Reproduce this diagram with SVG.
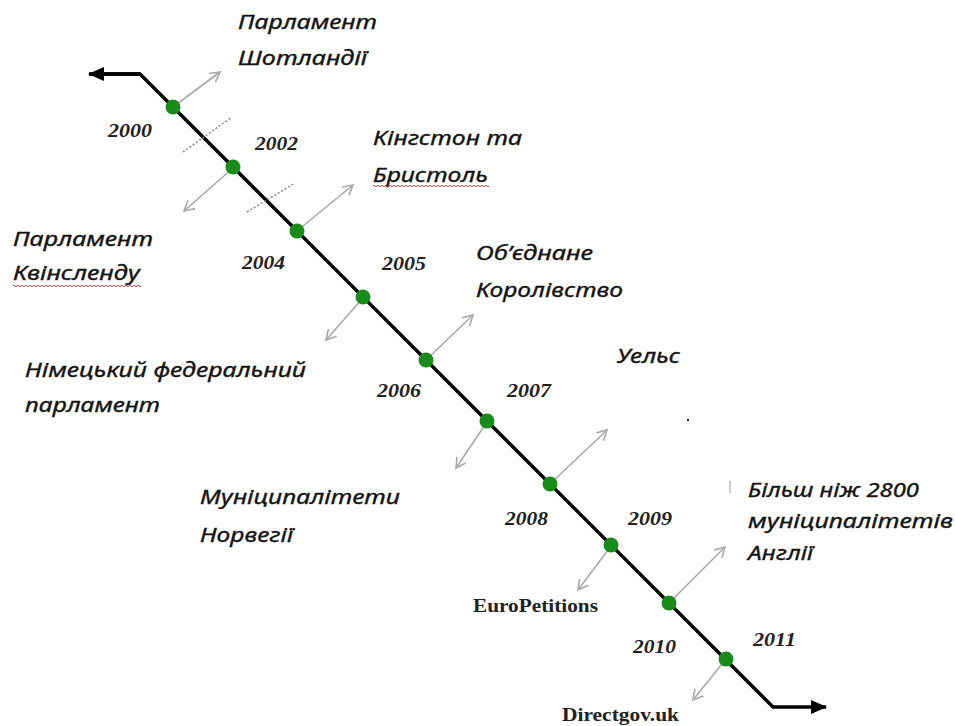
<svg xmlns="http://www.w3.org/2000/svg" width="955" height="726" viewBox="0 0 955 726">
<style>
.lbl{font-family:"Noto Sans","Open Sans",sans-serif;font-style:italic;font-size:20px;fill:#141414;stroke:#141414;stroke-width:0.35px}
.yr{font-family:"Liberation Serif","Times New Roman",serif;font-style:italic;font-weight:bold;font-size:19px;fill:#222}
.src{font-family:"Liberation Serif","Times New Roman",serif;font-weight:bold;font-size:18px;fill:#222}
.main{fill:none;stroke:#000;stroke-width:3.4}
.ptr{fill:none;stroke:#a9a9a9;stroke-width:1.6}
.dotted{fill:none;stroke:#8a8a8a;stroke-width:1.5;stroke-dasharray:2 2}
.dot{fill:#1a8a1a}
</style>
<defs>
<marker id="mainHead" markerUnits="userSpaceOnUse" markerWidth="18" markerHeight="16" refX="15" refY="7" orient="auto">
<path d="M0,0 L16,7 L0,14 Z" fill="#000"/>
</marker>
<marker id="ptrHead" markerUnits="userSpaceOnUse" markerWidth="14" markerHeight="14" refX="10" refY="6" orient="auto">
<path d="M0,0.5 L10,6 L0,11.5" fill="none" stroke="#a9a9a9" stroke-width="1.6"/>
</marker>
<pattern id="squig" width="4" height="4" patternUnits="userSpaceOnUse">
<path d="M0,3 L2,1 L4,3" fill="none" stroke="#d03030" stroke-width="0.9"/>
</pattern>
</defs>
<rect width="955" height="726" fill="#fff"/>

<g id="connectors">
<path class="main" d="M90,74 H140 L773,707 H826" marker-end="url(#mainHead)"/>
<path class="main" d="M140,74 H89" marker-end="url(#mainHead)"/>
<line class="ptr" x1="173" y1="107" x2="220" y2="72" marker-end="url(#ptrHead)"/>
<line class="ptr" x1="233" y1="168" x2="184" y2="211" marker-end="url(#ptrHead)"/>
<line class="ptr" x1="297" y1="231" x2="353" y2="185" marker-end="url(#ptrHead)"/>
<line class="ptr" x1="363" y1="298" x2="326" y2="340" marker-end="url(#ptrHead)"/>
<line class="ptr" x1="426" y1="360" x2="473" y2="315" marker-end="url(#ptrHead)"/>
<line class="ptr" x1="487" y1="422" x2="456" y2="468" marker-end="url(#ptrHead)"/>
<line class="ptr" x1="550" y1="484" x2="607" y2="430" marker-end="url(#ptrHead)"/>
<line class="ptr" x1="611" y1="546" x2="578" y2="590" marker-end="url(#ptrHead)"/>
<line class="ptr" x1="669" y1="603" x2="725" y2="547" marker-end="url(#ptrHead)"/>
<line class="ptr" x1="726" y1="659" x2="693" y2="700" marker-end="url(#ptrHead)"/>
<line class="dotted" x1="183" y1="152" x2="232" y2="117"/>
<line class="dotted" x1="247" y1="212" x2="295" y2="183"/>
</g>

<g id="y2000"><circle class="dot" cx="173" cy="107" r="7.5"/><text class="yr" x="108" y="137" textLength="44" lengthAdjust="spacingAndGlyphs">2000</text></g>
<g id="y2002"><circle class="dot" cx="233" cy="167" r="7.5"/><text class="yr" x="255" y="150" textLength="43" lengthAdjust="spacingAndGlyphs">2002</text></g>
<g id="y2004"><circle class="dot" cx="297" cy="231" r="7.5"/><text class="yr" x="242" y="269" textLength="43" lengthAdjust="spacingAndGlyphs">2004</text></g>
<g id="y2005"><circle class="dot" cx="363" cy="297" r="7.5"/><text class="yr" x="382" y="270" textLength="44" lengthAdjust="spacingAndGlyphs">2005</text></g>
<g id="y2006"><circle class="dot" cx="426" cy="360" r="7.5"/><text class="yr" x="377" y="397" textLength="44" lengthAdjust="spacingAndGlyphs">2006</text></g>
<g id="y2007"><circle class="dot" cx="487" cy="421" r="7.5"/><text class="yr" x="507" y="397" textLength="44" lengthAdjust="spacingAndGlyphs">2007</text></g>
<g id="y2008"><circle class="dot" cx="550" cy="484" r="7.5"/><text class="yr" x="505" y="525" textLength="43" lengthAdjust="spacingAndGlyphs">2008</text></g>
<g id="y2009"><circle class="dot" cx="611" cy="545" r="7.5"/><text class="yr" x="628" y="525" textLength="44" lengthAdjust="spacingAndGlyphs">2009</text></g>
<g id="y2010"><circle class="dot" cx="669" cy="603" r="7.5"/><text class="yr" x="633" y="653" textLength="43" lengthAdjust="spacingAndGlyphs">2010</text></g>
<g id="y2011"><circle class="dot" cx="726" cy="659" r="7.5"/><text class="yr" x="753" y="646" textLength="43" lengthAdjust="spacingAndGlyphs">2011</text></g>

<g id="scotland">
<text class="lbl" x="238" y="29" textLength="139" lengthAdjust="spacingAndGlyphs">Парламент</text>
<text class="lbl" x="238" y="65" textLength="129" lengthAdjust="spacingAndGlyphs">Шотландії</text>
</g>
<g id="kingston">
<text class="lbl" x="373" y="145" textLength="149" lengthAdjust="spacingAndGlyphs">Кінгстон та</text>
<text class="lbl" x="373" y="182" textLength="115" lengthAdjust="spacingAndGlyphs">Бристоль</text>
<rect x="373" y="185" width="116" height="4" fill="url(#squig)"/>
</g>
<g id="queensland">
<text class="lbl" x="13" y="246" textLength="140" lengthAdjust="spacingAndGlyphs">Парламент</text>
<text class="lbl" x="13" y="280" textLength="127" lengthAdjust="spacingAndGlyphs">Квінсленду</text>
<rect x="13" y="284" width="128" height="4" fill="url(#squig)"/>
</g>
<g id="uk">
<text class="lbl" x="476" y="260" textLength="117" lengthAdjust="spacingAndGlyphs">Об’єднане</text>
<text class="lbl" x="476" y="297" textLength="147" lengthAdjust="spacingAndGlyphs">Королівство</text>
</g>
<g id="germany">
<text class="lbl" x="25" y="377" textLength="281" lengthAdjust="spacingAndGlyphs">Німецький федеральний</text>
<text class="lbl" x="25" y="412" textLength="135" lengthAdjust="spacingAndGlyphs">парламент</text>
</g>
<g id="wales">
<text class="lbl" x="617" y="363" textLength="63" lengthAdjust="spacingAndGlyphs">Уельс</text>
<rect x="687" y="419" width="2" height="2" fill="#333"/>
</g>
<g id="norway">
<text class="lbl" x="200" y="504" textLength="200" lengthAdjust="spacingAndGlyphs">Муніципалітети</text>
<text class="lbl" x="200" y="542" textLength="93" lengthAdjust="spacingAndGlyphs">Норвегії</text>
</g>
<g id="england">
<line x1="730" y1="481" x2="730" y2="493" stroke="#999" stroke-width="1"/>
<text class="lbl" x="748" y="497" textLength="171" lengthAdjust="spacingAndGlyphs">Більш ніж 2800</text>
<text class="lbl" x="748" y="528" textLength="205" lengthAdjust="spacingAndGlyphs">муніципалітетів</text>
<text class="lbl" x="748" y="560" textLength="65" lengthAdjust="spacingAndGlyphs">Англії</text>
</g>
<g id="europetitions">
<text class="src" x="473" y="612" textLength="125" lengthAdjust="spacingAndGlyphs">EuroPetitions</text>
</g>
<g id="directgov">
<text class="src" x="562" y="721" textLength="117" lengthAdjust="spacingAndGlyphs">Directgov.uk</text>
</g>
</svg>
